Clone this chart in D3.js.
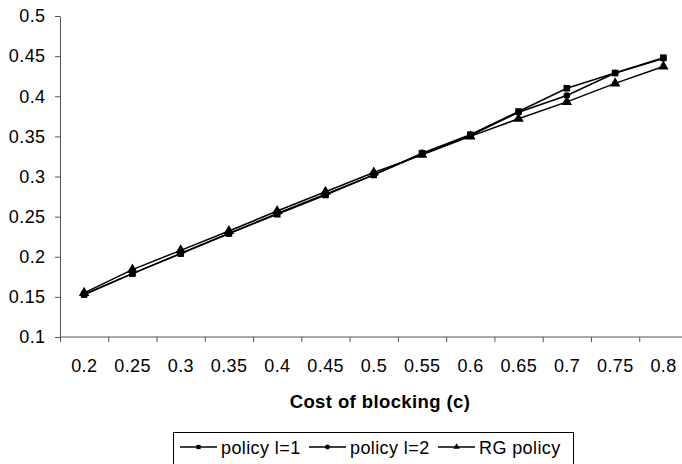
<!DOCTYPE html>
<html>
<head>
<meta charset="utf-8">
<script src="https://cdn.jsdelivr.net/npm/d3@7"></script>
<style>
body{margin:0;background:#fff;}
svg{display:block;font-family:"Liberation Sans",Arial,sans-serif;}
</style>
</head>
<body>
<svg id="chart"></svg>
<script>
// cost of blocking categories
var costs=['0.2','0.25','0.3','0.35','0.4','0.45','0.5','0.55','0.6','0.65','0.7','0.75','0.8'];
var policy1=[0.153,0.179,0.204,0.229,0.253,0.277,0.302,0.329,0.352,0.381,0.410,0.429,0.448];
var policy2=[0.153,0.179,0.204,0.229,0.254,0.278,0.302,0.328,0.351,0.380,0.401,0.429,0.447];
var rgPolicy=[0.155,0.184,0.208,0.232,0.257,0.281,0.305,0.327,0.350,0.372,0.393,0.416,0.437];
var yTicks=[0.1,0.15,0.2,0.25,0.3,0.35,0.4,0.45,0.5];
var seriesNames=['policy l=1','policy l=2','RG policy'];

var svgWidth=682,svgHeight=464;
var svg=d3.select('#chart')
    .attr('width',svgWidth)
    .attr('height',svgHeight);

var x=d3.scaleBand()
    .domain(costs)
    .range([60,60+13*48.27]);

var y=d3.scaleLinear()
    .domain([0.1,0.5])
    .range([337,16]);

var axisColor='#555';
var fontSize='18px';
var spacing='0.4px';

// y axis
var yAxis=svg.append('g')
    .attr('transform','translate(60,0)')
    .call(d3.axisLeft(y).tickValues(yTicks).tickSize(5).tickSizeOuter(0).tickFormat(d3.format('')));
yAxis.select('.domain').attr('stroke',axisColor);
yAxis.selectAll('.tick line').attr('stroke',axisColor);
yAxis.selectAll('.tick text')
    .attr('x',-14.5)
    .attr('fill','#000')
    .style('font-size',fontSize)
    .style('letter-spacing',spacing);

// x axis, ticks on category boundaries
var xAxis=svg.append('g')
    .attr('transform','translate(0,337)');
xAxis.append('line')
    .attr('x1',60).attr('x2',x.range()[1])
    .attr('stroke',axisColor);
xAxis.selectAll('.xtick')
    .data(costs)
    .enter()
    .append('line')
    .attr('x1',d=>x(d)+0.5).attr('x2',d=>x(d)+0.5)
    .attr('y1',0).attr('y2',5)
    .attr('stroke',axisColor);
xAxis.selectAll('.xlabel')
    .data(costs)
    .enter()
    .append('text')
    .attr('x',d=>x(d)+x.bandwidth()/2+0.2)
    .attr('y',35)
    .attr('text-anchor','middle')
    .style('font-size',fontSize)
    .style('letter-spacing',spacing)
    .text(d=>d);

svg.append('text')
    .attr('x',380)
    .attr('y',408)
    .attr('text-anchor','middle')
    .style('font-size','18.5px')
    .style('font-weight','bold')
    .style('letter-spacing','0.4px')
    .text('Cost of blocking (c)');

var cx=function(i){return x(costs[i])+x.bandwidth()/2;};
var line=d3.line()
    .x((d,i)=>cx(i))
    .y(d=>y(d));

var symbols=[d3.symbolSquare,d3.symbolCircle,d3.symbolTriangle];
var symSizes=[44,34,48];

var series=[
    {name:seriesNames[0],values:policy1},
    {name:seriesNames[1],values:policy2},
    {name:seriesNames[2],values:rgPolicy}
];

series.forEach(function(s){
    svg.append('path')
        .datum(s.values)
        .attr('fill','none')
        .attr('stroke','#000')
        .attr('stroke-width',1.5)
        .attr('d',line);
});
series.forEach(function(s,k){
    svg.selectAll(null)
        .data(s.values)
        .enter()
        .append('path')
        .attr('d',d3.symbol().type(symbols[k]).size(symSizes[k])())
        .attr('fill','#000')
        .attr('transform',(d,i)=>'translate('+cx(i)+','+y(d)+')');
});

// legend
var legend=svg.append('g');
legend.append('rect')
    .attr('x',173.5).attr('y',432.5)
    .attr('width',400).attr('height',40)
    .attr('fill','none')
    .attr('stroke','#000');
var legendX=[180,309,438];
series.forEach(function(s,i){
    var g=legend.append('g').attr('transform','translate('+legendX[i]+',447)');
    g.append('line')
        .attr('x1',0).attr('x2',37)
        .attr('stroke','#000')
        .attr('stroke-width',1.5);
    g.append('path')
        .attr('d',d3.symbol().type(symbols[i]).size(18)())
        .attr('transform','translate(18.5,0)');
    g.append('text')
        .attr('x',41)
        .attr('y',7)
        .style('font-size',fontSize)
        .style('letter-spacing',spacing)
        .text(s.name);
});
</script>
</body>
</html>
